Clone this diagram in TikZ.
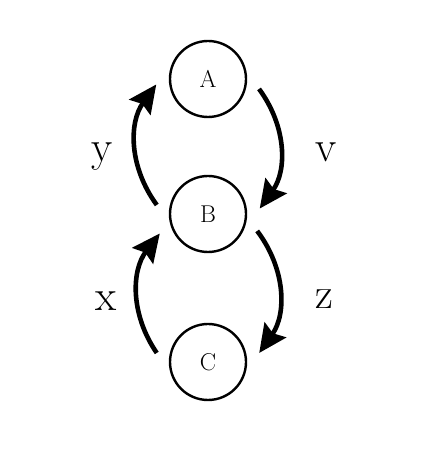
\documentclass[tikz,border=0pt]{standalone}
\usetikzlibrary{arrows.meta}

\begin{document}
\begin{tikzpicture}[x=0.25mm,y=0.25mm,state/.style={draw,circle,line width=0.6mm,minimum size=19mm,outer sep=3.5mm,font=\LARGE},flow/.style={line width=1.15mm,-{Stealth[length=7mm,width=6.5mm,inset=1mm]}},lab/.style={font=\fontsize{31}{36}\selectfont}]
\useasboundingbox (0,0) rectangle (422,466);
\node[state](a) at (208,387){A};
\node[state](b) at (208,252){B};
\node[state](c) at (208,104){C};
\draw[flow](b.170) to[bend left=36] node[lab,midway,left=4mm,yshift=-3mm]{y} (a.186);
\draw[flow](a.-11) to[bend left=36] node[lab,midway,right=7.2mm,yshift=-0.8mm]{v} (b.6);
\draw[flow](c.170) to[bend left=36] node[lab,midway,left=3.5mm,yshift=-2mm]{x} (b.202);
\draw[flow](b.-19) to[bend left=36] node[lab,midway,right=7.2mm,yshift=-2mm]{z} (c.10);
\end{tikzpicture}
\end{document}
